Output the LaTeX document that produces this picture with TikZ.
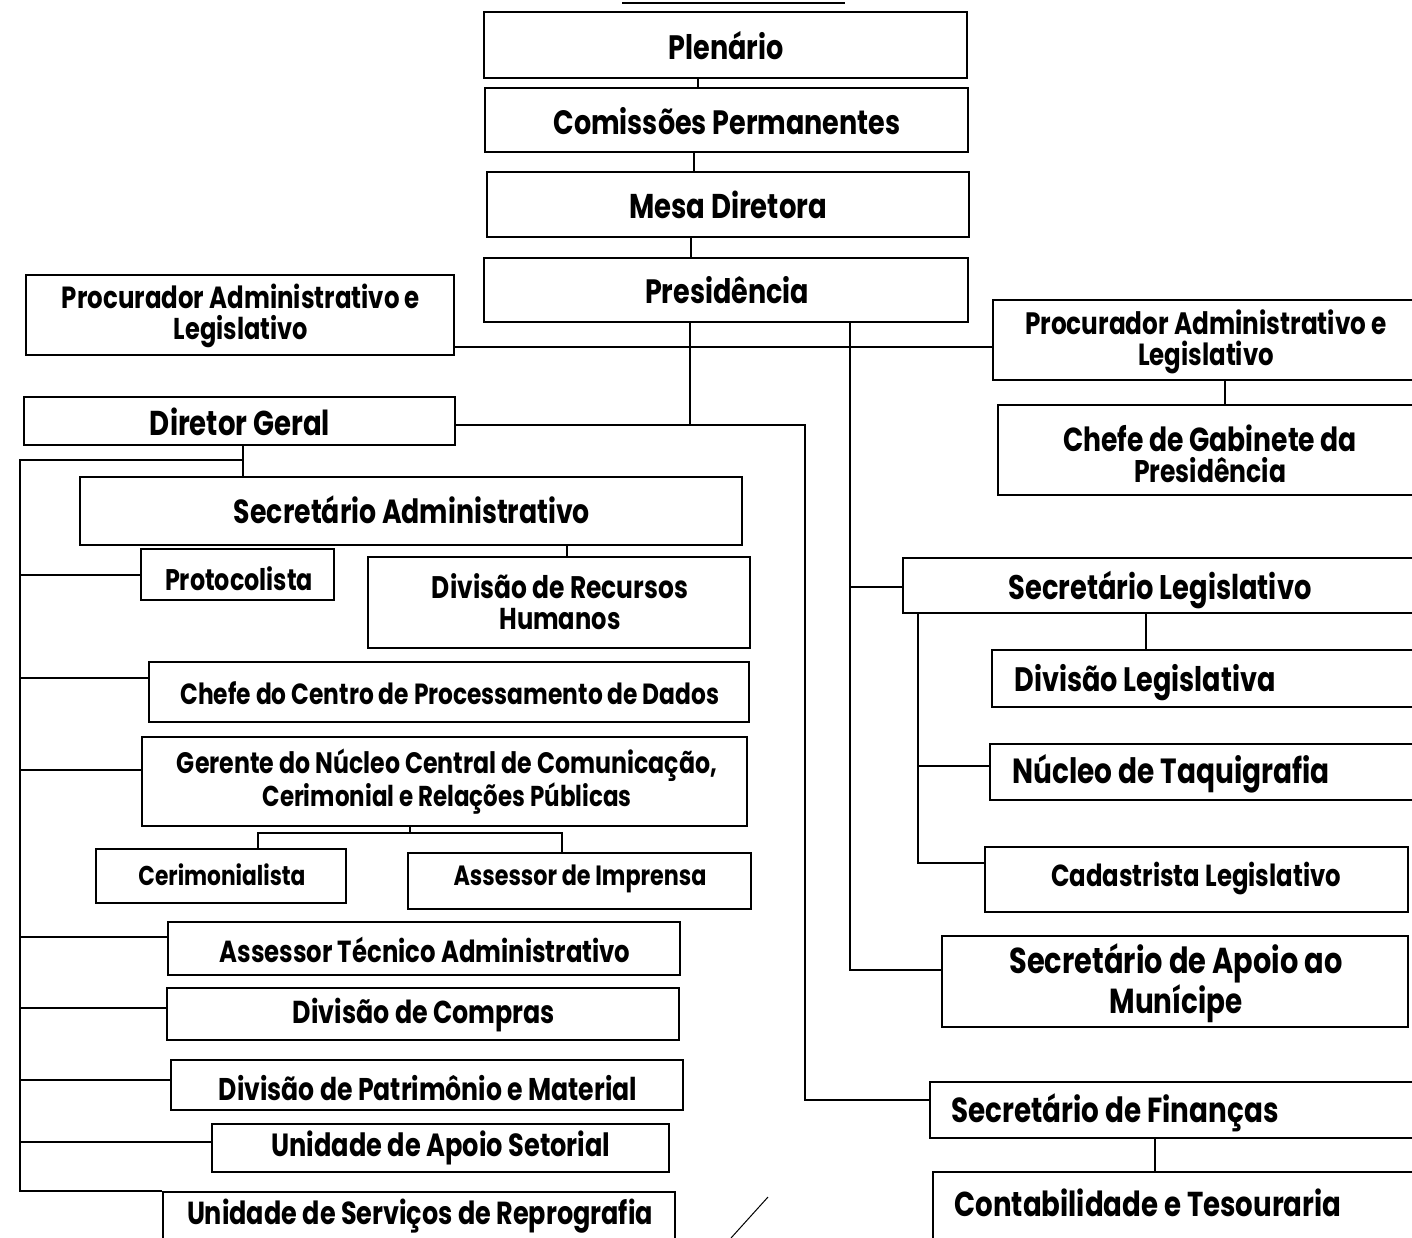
\documentclass[tikz,border=0pt]{standalone}
\usepackage{fontspec}
\setmainfont{Poppins}
\usepackage{graphicx}
\newcommand\bx[5]{\node[box, minimum width={(#4)-(#2)}, minimum height={(#5)-(#3)}] (#1) at ({((#2)+(#4))/2},{((#3)+(#5))/2}) {};}
\newcommand\tx[4]{\node[lbl] (#1) at (#2,#3) {#4};}
\newcommand\fw[2]{\scalebox{1}[1.25]{\resizebox{#1pt}{!}{#2}}}
\begin{document}
\begin{tikzpicture}[x=1pt,y=-1pt,
  box/.style={draw, line width=1.8pt, rectangle, inner sep=0pt},
  lbl/.style={inner sep=0pt, align=center, font=\bfseries\fontsize{22}{31}\selectfont},
  conn/.style={line width=1.6pt}]
\useasboundingbox (0,0) rectangle (1412,1238);
\clip (0,0) rectangle (1412,1238);
\fill[white] (0,0) rectangle (1412,1238);
% boxes
\bx{plen}{484}{12}{967}{78}
\bx{com}{485}{88}{968}{152}
\bx{mesa}{487}{172}{969}{237}
\bx{pres}{484}{258}{968}{322}
\bx{procL}{26}{275}{454}{355}
\bx{procR}{993}{300}{1440}{380}
\bx{gab}{998}{405}{1440}{495}
\bx{dir}{24}{397}{455}{445}
\bx{adm}{80}{477}{742}{545}
\bx{proto}{141}{549}{334}{600}
\bx{rh}{368}{557}{750}{648}
\bx{cpd}{149}{662}{749}{722}
\bx{ger}{142}{737}{747}{826}
\bx{cer}{96}{849}{346}{903}
\bx{imp}{408}{853}{751}{909}
\bx{ata}{168}{922}{680}{975}
\bx{comp}{167}{988}{679}{1040}
\bx{pat}{171}{1060}{683}{1110}
\bx{uas}{212}{1124}{669}{1172}
\bx{rep}{163}{1192}{675}{1262}
\bx{leg}{903}{558}{1440}{613}
\bx{divleg}{992}{650}{1440}{707}
\bx{taq}{990}{744}{1440}{800}
\bx{cad}{985}{847}{1408}{912}
\bx{apoio}{942}{936}{1408}{1027}
\bx{fin}{930}{1082}{1440}{1138}
\bx{cont}{933}{1172}{1440}{1262}
% texts
\tx{plen-t}{726}{46}{\fw{115}{Plenário}}
\tx{com-t}{727}{121}{\fw{347}{Comissões Permanentes}}
\tx{mesa-t}{728}{205}{\fw{198}{Mesa Diretora}}
\tx{pres-t}{727}{290}{\fw{164}{Presidência}}
\tx{procL-t}{241}{316}{\fw{358}{Procurador Administrativo e}\\\fw{134}{Legislativo}}
\tx{dir-t}{240}{422}{\fw{180}{Diretor Geral}}
\tx{procR-t}{1206}{342}{\fw{362}{Procurador Administrativo e}\\\fw{136}{Legislativo}}
\tx{gab-t}{1210}{454}{\fw{294}{Chefe de Gabinete da}\\\fw{152}{Presidência}}
\tx{adm-t}{412}{510}{\fw{356}{Secretário Administrativo}}
\tx{proto-t}{239}{579}{\fw{148}{Protocolista}}
\tx{rh-t}{560}{602}{\fw{256}{Divisão de Recursos}\\\fw{121}{Humanos}}
\tx{cpd-t}{450}{693}{\fw{539}{Chefe do Centro de Processamento de Dados}}
\tx{ger-t}{447}{782}{\fw{540}{Gerente do Núcleo Central de Comunicação,}\\\fw{369}{Cerimonial e Relações Públicas}}
\tx{cer-t}{222}{875}{\fw{167}{Cerimonialista}}
\tx{imp-t}{580}{879}{\fw{253}{Assessor de Imprensa}}
\tx{ata-t}{425}{950}{\fw{411}{Assessor Técnico Administrativo}}
\tx{comp-t}{424}{1015}{\fw{262}{Divisão de Compras}}
\tx{pat-t}{428}{1088}{\fw{418}{Divisão de Patrimônio e Material}}
\tx{uas-t}{441}{1148}{\fw{339}{Unidade de Apoio Setorial}}
\tx{rep-t}{420}{1216}{\fw{466}{Unidade de Serviços de Reprografia}}
\tx{leg-t}{1160}{590}{\fw{303}{Secretário Legislativo}}
\tx{divleg-t}{1145}{683}{\fw{261}{Divisão Legislativa}}
\tx{taq-t}{1171}{774}{\fw{317}{Núcleo de Taquigrafia}}
\tx{cad-t}{1196}{878}{\fw{290}{Cadastrista Legislativo}}
\tx{apoio-t}{1176}{983}{\fw{333}{Secretário de Apoio ao}\\\fw{133}{Munícipe}}
\tx{fin-t}{1115}{1113}{\fw{327}{Secretário de Finanças}}
\tx{cont-t}{1148}{1203}{\fw{387}{Contabilidade e Tesouraria}}
% column / row helper coordinates
\coordinate (v698) at (698,0);
\coordinate (v694) at (694,0);
\coordinate (v691) at (691,0);
\coordinate (v690) at (690,0);
\coordinate (v805) at (805,0);
\coordinate (v850) at (850,0);
\coordinate (v1146) at (1146,0);
\coordinate (v918) at (918,0);
\coordinate (v1225) at (1225,0);
\coordinate (v1155) at (1155,0);
\coordinate (v243) at (243,0);
\coordinate (v567) at (567,0);
\coordinate (v410) at (410,0);
\coordinate (v258) at (258,0);
\coordinate (v562) at (562,0);
\coordinate (v20) at (20,0);
\coordinate (h425) at (0,425);
\coordinate (h347) at (0,347);
\coordinate (h587) at (0,587);
\coordinate (h766) at (0,766);
\coordinate (h863) at (0,863);
\coordinate (h970) at (0,970);
\coordinate (h1100) at (0,1100);
\coordinate (h460) at (0,460);
\coordinate (h575) at (0,575);
\coordinate (h678) at (0,678);
\coordinate (h770) at (0,770);
\coordinate (h937) at (0,937);
\coordinate (h1008) at (0,1008);
\coordinate (h1080) at (0,1080);
\coordinate (h1142) at (0,1142);
\coordinate (h833) at (0,833);
% connectors
\draw[conn] (plen.south -| v698) -- (com.north -| v698);
\draw[conn] (com.south -| v694) -- (mesa.north -| v694);
\draw[conn] (mesa.south -| v691) -- (pres.north -| v691);
\draw[conn] (pres.south -| v690) -- (v690 |- h425);
\draw[conn] (dir.east |- h425) -- (v805 |- h425) -- (v805 |- h1100) -- (fin.west |- h1100);
\draw[conn] (procL.east |- h347) -- (procR.west |- h347);
\draw[conn] (pres.south -| v850) -- (v850 |- h970) -- (apoio.west |- h970);
\draw[conn] (v850 |- h587) -- (leg.west |- h587);
\draw[conn] (leg.south -| v1146) -- (divleg.north -| v1146);
\draw[conn] (leg.south -| v918) -- (v918 |- h863) -- (cad.west |- h863);
\draw[conn] (v918 |- h766) -- (taq.west |- h766);
\draw[conn] (procR.south -| v1225) -- (gab.north -| v1225);
\draw[conn] (fin.south -| v1155) -- (cont.north -| v1155);
\draw[conn] (dir.south -| v243) -- (adm.north -| v243);
\draw[conn] (v243 |- h460) -- (v20 |- h460) -- (v20 |- rep.north west) -- (rep.north west);
\draw[conn] (v20 |- h575) -- (proto.west |- h575);
\draw[conn] (v20 |- h678) -- (cpd.west |- h678);
\draw[conn] (v20 |- h770) -- (ger.west |- h770);
\draw[conn] (v20 |- h937) -- (ata.west |- h937);
\draw[conn] (v20 |- h1008) -- (comp.west |- h1008);
\draw[conn] (v20 |- h1080) -- (pat.west |- h1080);
\draw[conn] (v20 |- h1142) -- (uas.west |- h1142);
\draw[conn] (adm.south -| v567) -- (rh.north -| v567);
\draw[conn] (ger.south -| v410) -- (v410 |- h833);
\draw[conn] (cer.north -| v258) -- (v258 |- h833) -- (v562 |- h833) -- (imp.north -| v562);
% scan marks
\coordinate (u1) at (622,3);
\coordinate (u2) at (845,3);
\draw[line width=2.5pt] (u1) -- (u2);
\coordinate (s1) at (731,1238);
\coordinate (s2) at (768,1197);
\draw[line width=1pt] (s1) -- (s2);
\end{tikzpicture}
\end{document}
